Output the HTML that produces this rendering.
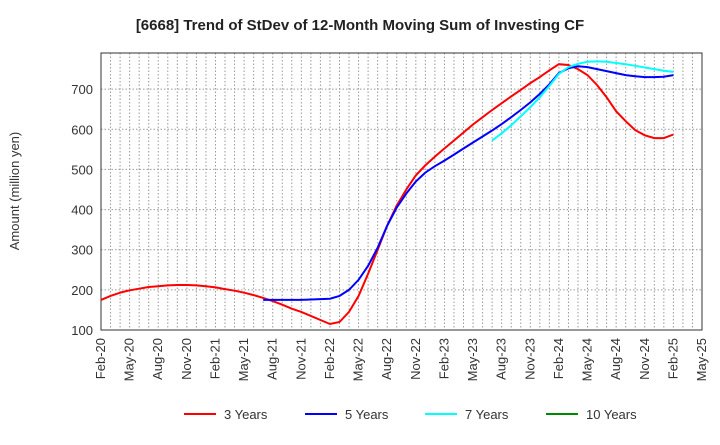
<!DOCTYPE html>
<html><head><meta charset="utf-8"><style>
body{margin:0;background:#fff;font-family:"Liberation Sans",sans-serif}
</style></head><body>
<svg id="c" width="720" height="440" xmlns="http://www.w3.org/2000/svg" font-family="Liberation Sans, sans-serif"></svg>
<script>
const months=["Feb-20","May-20","Aug-20","Nov-20","Feb-21","May-21","Aug-21","Nov-21","Feb-22","May-22","Aug-22","Nov-22","Feb-23","May-23","Aug-23","Nov-23","Feb-24","May-24","Aug-24","Nov-24","Feb-25","May-25"];
const yTicks=[100,200,300,400,500,600,700];
const s3=[175,185,193,199,203,207,209,211,212,212,211,209,206,202,198,193,187,180,172,163,153,145,135,125,115,120,145,185,240,300,360,410,450,485,510,532,552,572,592,612,630,648,665,682,698,715,730,747,762,760,750,735,710,680,645,620,598,585,578,578,587];
const s5start=17;
const s5=[175,175,175,175,175,176,177,178,185,200,225,260,305,360,405,440,470,492,508,522,537,552,567,582,597,613,630,648,667,688,712,740,752,757,755,750,745,740,735,732,730,730,731,735];
const s7start=41;
const s7=[572,590,610,632,655,680,708,738,755,763,768,769,768,765,762,758,754,750,746,743];
const s10=[];
const NS="http://www.w3.org/2000/svg",svg=document.getElementById('c');
const L=101,R=702,T=53,B=330,yMin=100,yMax=790,nM=63;
const x=i=>L+(R-L)*i/nM, y=v=>B-(B-T)*(v-yMin)/(yMax-yMin);
function mk(t,a,p){const e=document.createElementNS(NS,t);for(const k in a)e.setAttribute(k,a[k]);(p||svg).appendChild(e);return e;}
const g=mk('g',{});
for(let i=1;i<nM;i++)mk('line',{x1:x(i),x2:x(i),y1:T,y2:B,stroke:'#999','stroke-dasharray':'1.5,2','stroke-width':1},g);
yTicks.forEach(v=>{if(v>yMin)mk('line',{x1:L,x2:R,y1:y(v),y2:y(v),stroke:'#999','stroke-dasharray':'1.5,2'},g);
const t=mk('text',{x:L-8,y:y(v)+5,'text-anchor':'end','font-size':13,fill:'#333'});t.textContent=v;
});
months.forEach((m,i)=>{const xx=x(i*3);const t=mk('text',{x:xx+4,y:B+8,'text-anchor':'end','font-size':13,fill:'#333',transform:`rotate(-90 ${xx+4} ${B+8})`});t.textContent=m;
});
const fr=mk('rect',{x:L,y:T,width:R-L,height:B-T,fill:'none',stroke:'#333','stroke-width':1});

function line(arr,start,col,name){if(!arr.length)return;const d=arr.map((v,i)=>(i?'L':'M')+x(start+i).toFixed(1)+','+y(v).toFixed(1)).join('');
const p=mk('path',{d,fill:'none',stroke:col,'stroke-width':2});}
line(s3,0,'#f00','series-3-years');line(s5,s5start,'#00f','series-5-years');line(s7,s7start,'#0ff','series-7-years');line(s10,0,'#080','series-10-years');
const ti=mk('text',{x:360,y:30,'text-anchor':'middle','font-size':15,'font-weight':'bold',fill:'#222'});ti.textContent='[6668]  Trend of StDev of 12-Month Moving Sum of Investing CF';

const yt=mk('text',{x:19,y:191,'text-anchor':'middle','font-size':13,fill:'#333',transform:'rotate(-90 19 191)'});yt.textContent='Amount (million yen)';

[['3 Years','#f00',184],['5 Years','#00f',305],['7 Years','#0ff',425],['10 Years','#080',546]].forEach(([n,c,lx])=>{
const lg=mk('g',{});
mk('line',{x1:lx,x2:lx+32,y1:414,y2:414,stroke:c,'stroke-width':2},lg);
const t=mk('text',{x:lx+40,y:419,'font-size':13,fill:'#333'},lg);t.textContent=n;});
</script>
</body></html>
